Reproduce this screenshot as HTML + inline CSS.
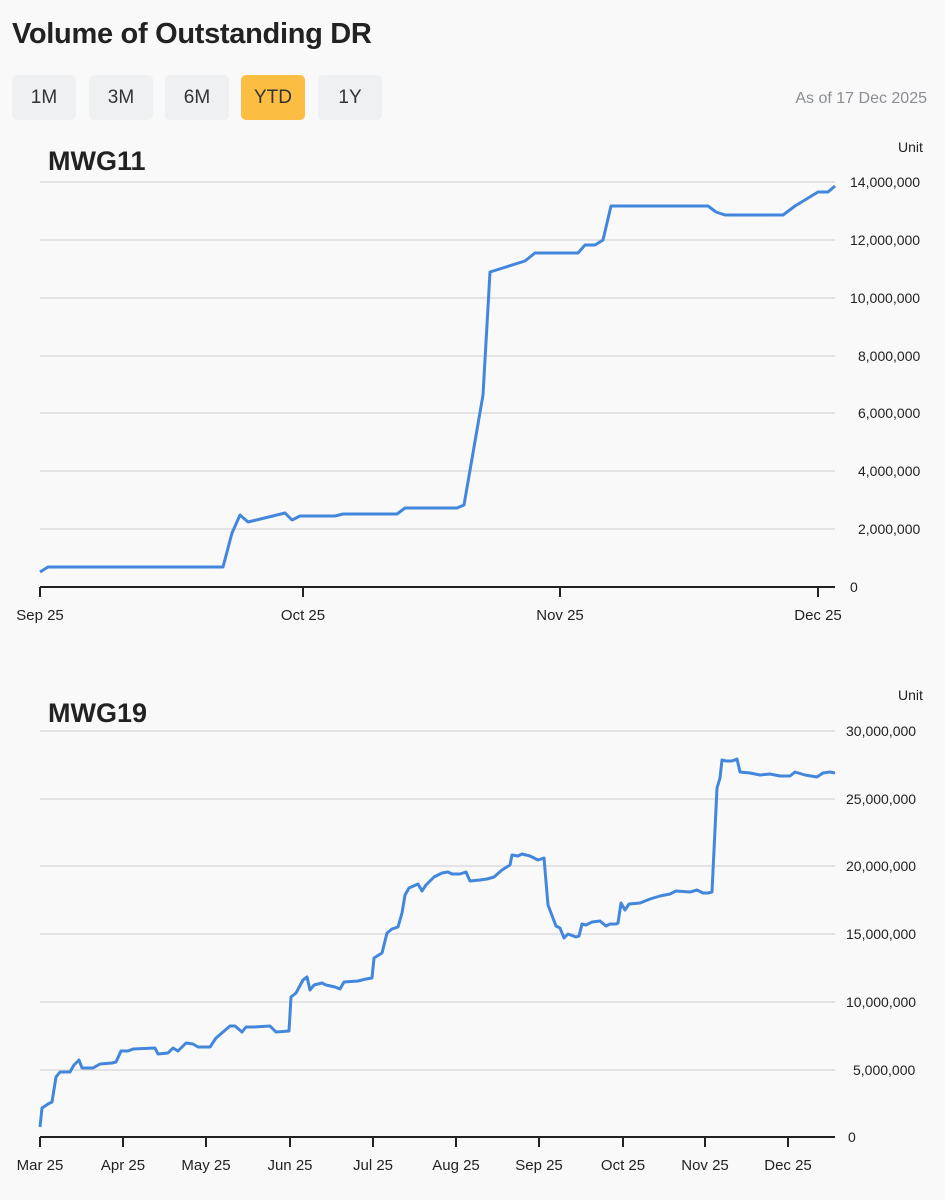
<!DOCTYPE html>
<html><head><meta charset="utf-8"><style>
body{margin:0;width:945px;height:1200px;background:#f9f9fa;font-family:"Liberation Sans",sans-serif;overflow:hidden;position:relative}
h1{position:absolute;left:12px;top:18px;margin:0;font-size:29px;font-weight:bold;color:#222;letter-spacing:-0.3px}
.b{position:absolute;top:75px;width:64px;height:45px;border-radius:5px;background:#eef0f2;color:#333;font-size:19px;line-height:45px;text-align:center}
.asof{position:absolute;right:18px;top:90px;font-size:16px;color:#8a8d92}
</style></head><body>
<h1>Volume of Outstanding DR</h1>
<div class="b" style="left:12px">1M</div>
<div class="b" style="left:89px">3M</div>
<div class="b" style="left:165px">6M</div>
<div class="b" style="left:241px;background:#fbbd42">YTD</div>
<div class="b" style="left:318px">1Y</div>
<div class="asof">As of 17 Dec 2025</div>
<svg width="945" height="1200" style="position:absolute;left:0;top:0" font-family="Liberation Sans, sans-serif">
<g stroke="#dcdcdc" stroke-width="1.5">
<line x1="40" x2="835" y1="182" y2="182"/><line x1="40" x2="835" y1="240" y2="240"/><line x1="40" x2="835" y1="298" y2="298"/><line x1="40" x2="835" y1="356" y2="356"/><line x1="40" x2="835" y1="413" y2="413"/><line x1="40" x2="835" y1="471" y2="471"/><line x1="40" x2="835" y1="529" y2="529"/>
<line x1="40" x2="835" y1="731" y2="731"/><line x1="40" x2="835" y1="799" y2="799"/><line x1="40" x2="835" y1="866" y2="866"/><line x1="40" x2="835" y1="934" y2="934"/><line x1="40" x2="835" y1="1002" y2="1002"/><line x1="40" x2="835" y1="1070" y2="1070"/>
</g>
<g stroke="#222" stroke-width="2">
<line x1="40" x2="835" y1="587" y2="587"/><line x1="40" x2="835" y1="1137" y2="1137"/>
<line x1="40" x2="40" y1="587" y2="597"/><line x1="303" x2="303" y1="587" y2="597"/><line x1="560" x2="560" y1="587" y2="597"/><line x1="818" x2="818" y1="587" y2="597"/>
<line x1="40" x2="40" y1="1137" y2="1147"/><line x1="123" x2="123" y1="1137" y2="1147"/><line x1="206" x2="206" y1="1137" y2="1147"/><line x1="290" x2="290" y1="1137" y2="1147"/><line x1="373" x2="373" y1="1137" y2="1147"/><line x1="456" x2="456" y1="1137" y2="1147"/><line x1="539" x2="539" y1="1137" y2="1147"/><line x1="623" x2="623" y1="1137" y2="1147"/><line x1="705" x2="705" y1="1137" y2="1147"/><line x1="788" x2="788" y1="1137" y2="1147"/>
</g>
<text x="48" y="170" font-size="27" font-weight="bold" fill="#222">MWG11</text>
<text x="48" y="722" font-size="27" font-weight="bold" fill="#222">MWG19</text>
<g font-size="14" fill="#222">
<text x="898" y="152">Unit</text><text x="898" y="700">Unit</text>
<text x="850" y="187">14,000,000</text><text x="850" y="245">12,000,000</text><text x="850" y="303">10,000,000</text><text x="858" y="361">8,000,000</text><text x="858" y="418">6,000,000</text><text x="858" y="476">4,000,000</text><text x="858" y="534">2,000,000</text><text x="850" y="592">0</text>
<text x="846" y="736">30,000,000</text><text x="846" y="804">25,000,000</text><text x="846" y="871">20,000,000</text><text x="846" y="939">15,000,000</text><text x="846" y="1007">10,000,000</text><text x="853" y="1075">5,000,000</text><text x="848" y="1142">0</text>
</g>
<g font-size="15" fill="#222" text-anchor="middle">
<text x="40" y="620">Sep 25</text><text x="303" y="620">Oct 25</text><text x="560" y="620">Nov 25</text><text x="818" y="620">Dec 25</text>
<text x="40" y="1170">Mar 25</text><text x="123" y="1170">Apr 25</text><text x="206" y="1170">May 25</text><text x="290" y="1170">Jun 25</text><text x="373" y="1170">Jul 25</text><text x="456" y="1170">Aug 25</text><text x="539" y="1170">Sep 25</text><text x="623" y="1170">Oct 25</text><text x="705" y="1170">Nov 25</text><text x="788" y="1170">Dec 25</text>
</g>
<g fill="none" stroke="#4287dc" stroke-width="3" stroke-linejoin="round">
<polyline points="40,572 48,567 223,567 232,533 240,515 248,522 285,513 292,520 300,516 335,516 343,514 397,514 405,508 457,508 464,505 483,395 490,272 525,261 535,253 578,253 585,245 595,245 603,240 611,206 708,206 716,212 725,215 783,215 795,206 818,192 828,192 835,186"/>
<polyline points="40,1127 42,1108 48,1104 52,1102 56,1077 60,1072 64,1072 70,1072 74,1065 79,1060 82,1068 93,1068 100,1064 112,1063 116,1062 121,1051 128,1051 133,1049 155,1048 158,1054 168,1053 173,1048 178,1051 186,1043 193,1044 198,1047 210,1047 216,1038 230,1026 235,1026 242,1032 246,1027 254,1027 270,1026 276,1032 289,1031 291,997 296,993 303,980 307,977 310,990 314,985 322,983 326,985 335,987 340,989 344,982 358,981 366,979 372,978 374,958 382,953 387,933 392,929 398,927 402,913 405,895 409,888 418,884 422,891 426,885 430,881 434,877 442,873 448,872 452,874 460,874 466,872 470,881 480,880 487,879 494,877 502,870 510,865 512,855 518,856 522,854 530,856 538,860 544,858 548,905 556,926 560,928 564,938 568,934 576,937 579,936 582,924 586,925 592,922 600,921 606,926 610,924 616,924 618,923 621,903 625,910 629,904 640,903 650,899 660,896 670,894 676,891 690,892 697,890 703,893 708,893 712,892 717,788 720,778 722,760 726,761 732,761 737,759 740,772 750,773 760,775 770,774 780,776 790,776 795,772 805,775 817,777 823,773 830,772 835,773"/>
</g>
</svg>
</body></html>
